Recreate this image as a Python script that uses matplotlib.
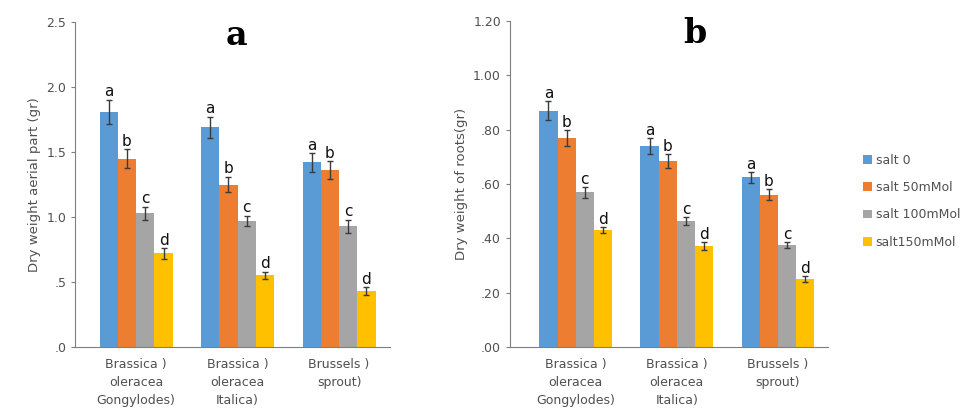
import numpy as np
import matplotlib.pyplot as plt

categories = ['Brassica )\noleracea\nGongylodes)', 'Brassica )\noleracea\nItalica)', 'Brussels )\nsprout)']
series = ['salt 0', 'salt 50mMol', 'salt 100mMol', 'salt150mMol']
colors = ['#5B9BD5', '#ED7D31', '#A5A5A5', '#FFC000']

# panel a: dry weight aerial part
aerial = [[1.81, 1.69, 1.42],
          [1.45, 1.25, 1.36],
          [1.03, 0.97, 0.93],
          [0.72, 0.55, 0.43]]
aerial_err = [[0.09, 0.08, 0.07],
              [0.07, 0.06, 0.07],
              [0.05, 0.04, 0.05],
              [0.04, 0.03, 0.03]]

# panel b: dry weight of roots
roots = [[0.87, 0.74, 0.625],
         [0.77, 0.685, 0.56],
         [0.57, 0.465, 0.375],
         [0.43, 0.37, 0.25]]
roots_err = [[0.035, 0.03, 0.02],
             [0.03, 0.025, 0.02],
             [0.02, 0.015, 0.01],
             [0.01, 0.015, 0.01]]

letters = ['a', 'b', 'c', 'd']

a_ticks = [0, 0.5, 1.0, 1.5, 2.0, 2.5]
a_ticklabels = ['.0', '.5', '1.0', '1.5', '2.0', '2.5']
b_ticks = [0, 0.2, 0.4, 0.6, 0.8, 1.0, 1.2]
b_ticklabels = ['.00', '.20', '.40', '.60', '.80', '1.00', '1.20']

fig = plt.figure(figsize=(9.77, 4.19), dpi=100)
ax_a = fig.add_axes([0.077, 0.172, 0.322, 0.775])
ax_b = fig.add_axes([0.522, 0.172, 0.326, 0.778])

x = np.arange(len(categories))
w = 0.18
grey = '#7f7f7f'


def draw(ax, vals, errs, ticks, ticklabels, ylim, ylabel, title, tx, off):
  for i in range(len(series)):
    xs = x + (i - 1.5) * w
    ax.bar(xs, vals[i], w, color=colors[i], label=series[i],
           yerr=errs[i], capsize=2.5, error_kw=dict(ecolor='#3a3a3a', elinewidth=1, capthick=1))
    for xx, v, e in zip(xs, vals[i], errs[i]):
      ax.text(xx, v + e + off, letters[i], ha='center', va='bottom', fontsize=11, color='#111111')
  ax.set_ylim(*ylim)
  ax.set_yticks(ticks)
  ax.set_yticklabels(ticklabels)
  ax.set_xticks(x)
  ax.set_xticklabels(categories, fontsize=9, color='#505050', linespacing=1.5)
  ax.tick_params(axis='x', length=0, pad=8)
  ax.tick_params(axis='y', length=3, color=grey, labelsize=9, labelcolor='#505050')
  for s in ['top', 'right']:
    ax.spines[s].set_visible(False)
  for s in ['left', 'bottom']:
    ax.spines[s].set_color(grey)
  ax.set_ylabel(ylabel, fontsize=9.5, color='#505050')
  ax.text(tx, 0.96, title, transform=ax.transAxes, ha='center', va='center',
          fontsize=24, fontweight='bold', family='DejaVu Serif')


draw(ax_a, aerial, aerial_err, a_ticks, a_ticklabels, (0, 2.5), 'Dry weight aerial part (gr)', 'a', 0.514, 0.005)
draw(ax_b, roots, roots_err, b_ticks, b_ticklabels, (0, 1.2), 'Dry weight of roots(gr)', 'b', 0.58, 0.0)

ax_a.set_xlim(-0.6, 2.5)
ax_b.set_xlim(-0.65, 2.5)

h, l = ax_b.get_legend_handles_labels()
fig.legend(h, l, loc='center left', bbox_to_anchor=(0.872, 0.52), frameon=False,
           fontsize=9, handlelength=0.7, handleheight=0.7, handletextpad=0.3,
           labelspacing=1.15, labelcolor='#505050')

fig.savefig('out.png', dpi=100)
